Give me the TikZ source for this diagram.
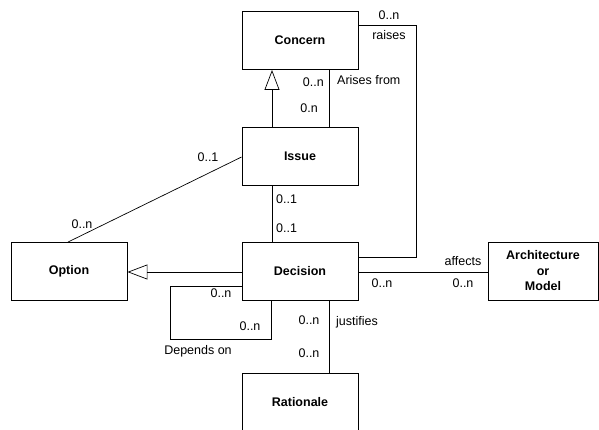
\documentclass[tikz,border=0pt]{standalone}
\usepackage{fontspec}
\setmainfont{Liberation Sans}
\usetikzlibrary{arrows.meta}
\tikzset{
  cls/.style={draw, line width=0.9pt, minimum width=116pt, minimum height=58pt, inner sep=0pt, font=\fontsize{12.5}{15.5}\selectfont\bfseries, align=center},
  conn/.style={line width=0.7pt},
  gen/.style={conn, -{Triangle[open, length=20pt, width=15pt]}},
  lbl/.style={font=\fontsize{12.5}{15}\selectfont, inner sep=0pt}
}
\begin{document}
\begin{tikzpicture}[x=1pt, y=-1pt]
\useasboundingbox (0,0) rectangle (599,430);
\node[cls] (concern) at (300,40.5) {Concern};
\node[cls] (issue) at (300,156) {Issue};
\node[cls] (option) at (69,271.5) {Option};
\node[cls] (decision) at (300,271) {Decision};
\node[cls, minimum width=110pt] (arch) at (543,271) {Architecture\\or\\Model};
\node[cls] (rationale) at (300,402) {Rationale};

% generalizations
\draw[gen] (issue.north -| 272,0) -- (concern.south -| 272,0);
\draw[gen] (decision.west |- 0,272) -- (option.east |- 0,272);

% arises from
\draw[conn] (issue.north -| 329,0) -- (concern.south -| 329,0);
\node[lbl, anchor=east] (l1) at (324,82) {0..n};
\node[lbl, anchor=east] (l2) at (318,108) {0.n};
\node[lbl, anchor=west] (l3) at (337,80) {Arises from};

% raises
\coordinate (r1) at (416,25);
\coordinate (r2) at (416,257);
\draw[conn] (concern.east |- 0,25) -- (r1) -- (r2) -- (decision.east |- 0,257);
\node[lbl] (l4) at (389,15) {0..n};
\node[lbl] (l5) at (389,35) {raises};

% issue - option
\draw[conn] (issue.west |- 0,157) -- (option.north -| 68,0);
\node[lbl] (l6) at (208,157) {0..1};
\node[lbl] (l7) at (82,224) {0..n};

% issue - decision
\draw[conn] (issue.south -| 272,0) -- (decision.north -| 272,0);
\node[lbl, anchor=west] (l8) at (276,199) {0..1};
\node[lbl, anchor=west] (l9) at (276,228) {0..1};

% depends on
\coordinate (d1) at (170,286);
\coordinate (d2) at (170,339);
\coordinate (d3) at (271,339);
\draw[conn] (decision.west |- 0,286) -- (d1) -- (d2) -- (d3) -- (decision.south -| 271,0);
\node[lbl] (l10) at (221,293) {0..n};
\node[lbl] (l11) at (250,326) {0..n};
\node[lbl] (l12) at (198,351) {Depends on};

% justifies
\draw[conn] (decision.south -| 329,0) -- (rationale.north -| 329,0);
\node[lbl] (l13) at (309,320) {0..n};
\node[lbl] (l14) at (309,353) {0..n};
\node[lbl, anchor=west] (l15) at (336,322) {justifies};

% affects
\draw[conn] (decision.east |- 0,272) -- (arch.west |- 0,272);
\node[lbl] (l16) at (382,283) {0..n};
\node[lbl] (l17) at (463,261) {affects};
\node[lbl] (l18) at (463,283) {0..n};
\end{tikzpicture}
\end{document}
